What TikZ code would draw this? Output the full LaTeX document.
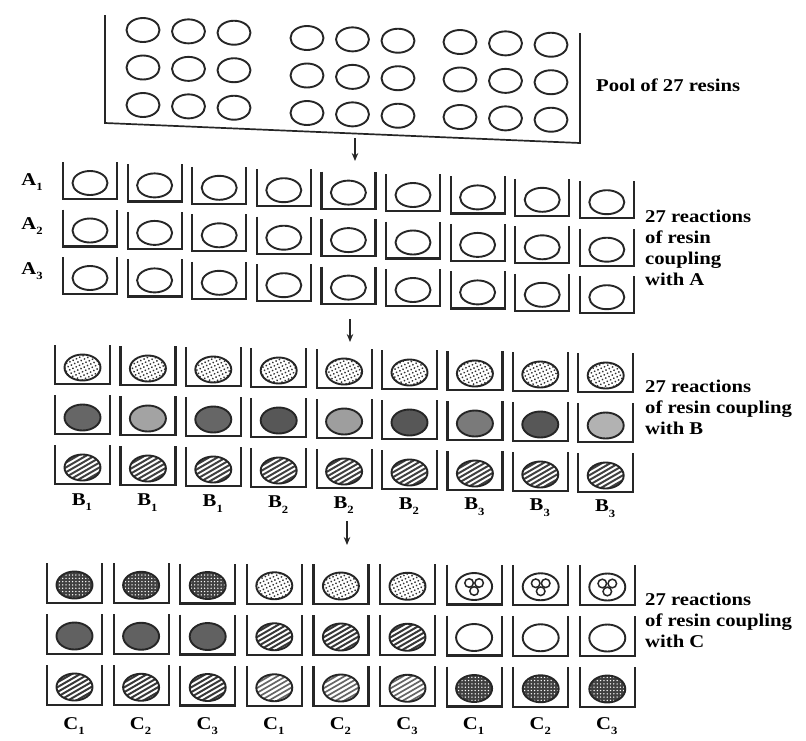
\documentclass[tikz,border=0pt]{standalone}
\usepackage{fontspec}
\setmainfont{Liberation Serif}
\usetikzlibrary{patterns.meta,arrows.meta}
\newcommand\wide[1]{\scalebox{1.15}[1]{#1}}
\newcommand\sublbl[2]{\wide{#1\raisebox{-0.32em}{\fontsize{11}{11}\selectfont #2}}}
% hatched bead: centre x, centre y, y radius, stripe colour, stripe width
\newcommand\hatchbead[5]{%
  \begin{scope}
    \clip (#1,#2) ellipse [x radius=18, y radius=#3];
    \fill[white] (#1-20,#2-16) rectangle (#1+20,#2+16);
    \foreach \k in {-6,...,6} {
      \draw[line width=#5, draw=#4] (#1+\k*8.4-26,#2+15) -- (#1+\k*8.4+26,#2-15);
    }
  \end{scope}
  \draw[beadline] (#1,#2) ellipse [x radius=18, y radius=#3];
}
\tikzset{
  trayline/.style={line width=1.7pt, draw=black!85},
  cupline/.style={line width=2.2pt, draw=black!85},
  beadline/.style={line width=1.9pt, draw=black!85},
  lbl/.style={font=\fontsize{18}{21}\selectfont\bfseries, inner sep=0pt},
  txt/.style={lbl, align=left, anchor=west},
  arr/.style={line width=1.5pt, draw=black!85, -{Stealth[length=8pt,width=6.5pt]}},
  empty/.style={fill=white},
  stip/.style={fill=white, postaction={pattern={Dots[radius=1pt,distance=3.6pt,angle=25]}, pattern color=black!80}},
  dark/.style={fill=black!75, postaction={pattern={Dots[radius=0.75pt,distance=3.3pt]}, pattern color=white}},
  three/.style={fill=white},
}
\begin{document}
\begin{tikzpicture}[x=1pt,y=-1pt]
\useasboundingbox (0,0) rectangle (806,740);
% ---------- pool tray ----------
\coordinate (pTL) at (105,15);
\coordinate (pBL) at (105,123);
\coordinate (pBR) at (580,143);
\coordinate (pTR) at (580,33);
\draw[trayline] (pTL) -- (pBL) -- (pBR) -- (pTR);
\foreach \gx/\gy in {143/30, 307/38, 460/42} {
  \foreach \dx in {0,45.5,91} {
    \foreach \r in {0,1,2} {
      \draw[beadline] (\gx+\dx,\gy+37.5*\r+0.03*\dx) ellipse [x radius=16.5, y radius=12];
    }
  }
}
\node[lbl, anchor=west] (pool) at (596,85) {\wide{Pool of 27 resins}};
% ---------- section A ----------
\foreach \i in {0,...,8} {
  \foreach \r in {0,1,2} {
    \pgfmathsetmacro\xl{63+64.6*\i}
    \pgfmathsetmacro\yt{162+47.5*\r+2.4*\i}
    \draw[cupline] (\xl,\yt) -- ++(0,37) -- ++(54,0) -- ++(0,-37);
    \draw[beadline] (\xl+27,\yt+21) ellipse [x radius=17.5, y radius=12];
  }
}
\node[lbl] (A1) at (32,182) {\sublbl{A}{1}};
\node[lbl] (A2) at (32,226) {\sublbl{A}{2}};
\node[lbl] (A3) at (32,271) {\sublbl{A}{3}};
\node[txt] (txtA) at (645,248) {\wide{27 reactions}\\\wide{of resin}\\\wide{coupling}\\\wide{with A}};
% ---------- section B ----------
\foreach \i in {0,...,8} {
  \pgfmathsetmacro\xl{55+65.4*\i}
  \pgfmathsetmacro\yt{345+1.0*\i}
  \draw[cupline] (\xl,\yt) -- ++(0,39) -- ++(55,0) -- ++(0,-39);
  \path[stip] (\xl+27.5,\yt+22.5) ellipse [x radius=18, y radius=13];
  \draw[beadline] (\xl+27.5,\yt+22.5) ellipse [x radius=18, y radius=13];
}
\foreach \g [count=\i from 0] in {60,36,60,66,38,66,52,66,30} {
  \pgfmathsetmacro\xl{55+65.4*\i}
  \pgfmathsetmacro\yt{395+1.0*\i}
  \draw[cupline] (\xl,\yt) -- ++(0,39) -- ++(55,0) -- ++(0,-39);
  \draw[beadline, fill=black!\g] (\xl+27.5,\yt+22.5) ellipse [x radius=18, y radius=13];
}
\foreach \i in {0,...,8} {
  \pgfmathsetmacro\xl{55+65.4*\i}
  \pgfmathsetmacro\yt{445+1.0*\i}
  \draw[cupline] (\xl,\yt) -- ++(0,39) -- ++(55,0) -- ++(0,-39);
  \hatchbead{\xl+27.5}{\yt+22.5}{13}{black!75}{2pt}
}
\foreach \s [count=\i from 0] in {1,1,1,2,2,2,3,3,3} {
  \pgfmathsetmacro\xl{55+65.4*\i}
  \node[lbl] (B\i) at (\xl+27,502+0.8*\i) {\sublbl{B}{\s}};
}
\node[txt] (txtB) at (645,407) {\wide{27 reactions}\\\wide{of resin coupling}\\\wide{with B}};
% ---------- section C ----------
% row 1
\foreach \st [count=\i from 0] in {dark,dark,dark,stip,stip,stip,three,three,three} {
  \pgfmathsetmacro\xl{47+66.6*\i}
  \pgfmathsetmacro\yt{563+0.25*\i}
  \draw[cupline] (\xl,\yt) -- ++(0,40) -- ++(55,0) -- ++(0,-40);
  \path[\st] (\xl+27.5,\yt+22) ellipse [x radius=18, y radius=13.5];
  \draw[beadline] (\xl+27.5,\yt+22) ellipse [x radius=18, y radius=13.5];
}
% row 2
\foreach \i in {0,...,8} {
  \pgfmathsetmacro\xl{47+66.6*\i}
  \pgfmathsetmacro\yt{614+0.25*\i}
  \draw[cupline] (\xl,\yt) -- ++(0,40) -- ++(55,0) -- ++(0,-40);
  \ifnum\i<3
    \draw[beadline, fill=black!62] (\xl+27.5,\yt+22) ellipse [x radius=18, y radius=13.5];
  \else\ifnum\i<6
    \hatchbead{\xl+27.5}{\yt+22}{13.5}{black!78}{2pt}
  \else
    \draw[beadline, fill=white] (\xl+27.5,\yt+22) ellipse [x radius=18, y radius=13.5];
  \fi\fi
}
% row 3
\foreach \i in {0,...,8} {
  \pgfmathsetmacro\xl{47+66.6*\i}
  \pgfmathsetmacro\yt{665+0.25*\i}
  \draw[cupline] (\xl,\yt) -- ++(0,40) -- ++(55,0) -- ++(0,-40);
  \ifnum\i<3
    \hatchbead{\xl+27.5}{\yt+22}{13.5}{black!78}{2pt}
  \else\ifnum\i<6
    \hatchbead{\xl+27.5}{\yt+22}{13.5}{black!60}{1.7pt}
  \else
    \path[dark] (\xl+27.5,\yt+22) ellipse [x radius=18, y radius=13.5];
    \draw[beadline] (\xl+27.5,\yt+22) ellipse [x radius=18, y radius=13.5];
  \fi\fi
}
% three small beads inside
\foreach \i in {6,7,8} {
  \pgfmathsetmacro\cx{47+66.6*\i+27.5}
  \pgfmathsetmacro\cy{563+0.25*\i+22}
  \draw[beadline, line width=1.5pt] (\cx-5,\cy-3.5) circle [radius=4.3];
  \draw[beadline, line width=1.5pt] (\cx+5,\cy-3.5) circle [radius=4.3];
  \draw[beadline, line width=1.5pt] (\cx,\cy+4.5) circle [radius=4.3];
}
\foreach \s [count=\i from 0] in {1,2,3,1,2,3,1,2,3} {
  \pgfmathsetmacro\xl{47+66.6*\i}
  \node[lbl] (C\i) at (\xl+27,726) {\sublbl{C}{\s}};
}
\node[txt] (txtC) at (645,620) {\wide{27 reactions}\\\wide{of resin coupling}\\\wide{with C}};
% ---------- arrows ----------
\coordinate (a1s) at (355,138);
\coordinate (a1e) at (355,161);
\coordinate (a2s) at (350,319);
\coordinate (a2e) at (350,342);
\coordinate (a3s) at (347,521);
\coordinate (a3e) at (347,545);
\draw[arr] (a1s) -- (a1e);
\draw[arr] (a2s) -- (a2e);
\draw[arr] (a3s) -- (a3e);
\end{tikzpicture}
\end{document}
